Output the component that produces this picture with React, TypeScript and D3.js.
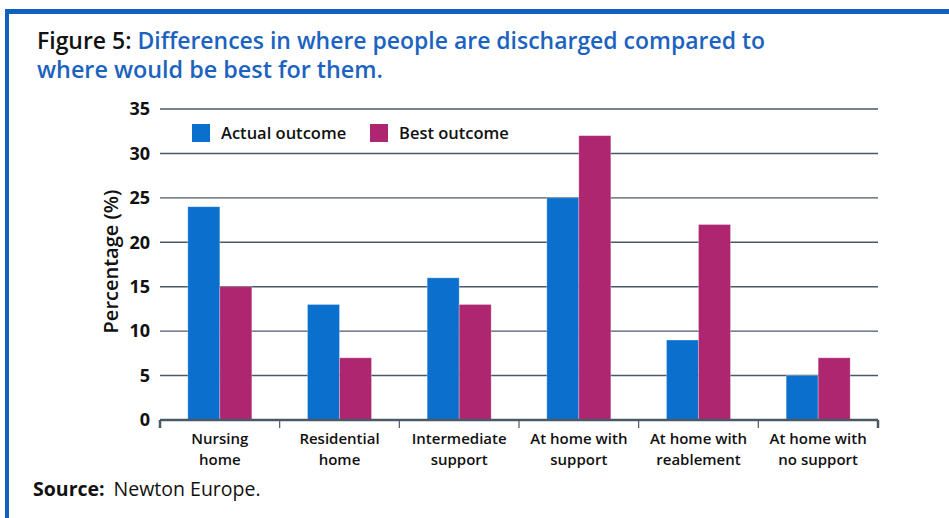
import React from 'react';
import * as d3 from 'd3';

// chart data
const categories = [
  ['Nursing', 'home'],
  ['Residential', 'home'],
  ['Intermediate', 'support'],
  ['At home with', 'support'],
  ['At home with', 'reablement'],
  ['At home with', 'no support'],
];
const actualOutcome = [24, 13, 16, 25, 9, 5];
const bestOutcome = [15, 7, 13, 32, 22, 7];
const yTicks = [0, 5, 10, 15, 20, 25, 30, 35];
const seriesNames = ['Actual outcome', 'Best outcome'];

const W = 949;
const H = 518;
const BLUE = '#0a6fcd';
const PINK = '#ae2670';
const FRAME = '#1060bd';
const GRID = '#4b5967';
const FONT = '"Open Sans", "Noto Sans", sans-serif';

const App: React.FC = () => {
  const margin = { left: 160, right: 71, top: 109, bottom: 98 };
  const plotW = W - margin.left - margin.right;
  const plotH = H - margin.top - margin.bottom;

  const x = d3
    .scaleBand<number>()
    .domain(categories.map((_, i) => i))
    .range([0, plotW]);
  const y = d3.scaleLinear().domain([0, 35]).range([plotH, 0]);
  const barW = 32;

  const series = [actualOutcome, bestOutcome];
  const colors = [BLUE, PINK];

  return (
    <svg
      width={W}
      height={H}
      style={{ position: 'absolute', left: 0, top: 0, background: '#fff' }}
      fontFamily={FONT}
    >
      {/* frame */}
      <rect x={5} y={9} width={W - 5} height={5} fill={FRAME} />
      <rect x={5} y={9} width={4} height={H - 9} fill={FRAME} />

      {/* title */}
      <text x={37} y={49} fontSize={23} fontWeight={600} fill="#111" textLength={728} lengthAdjust="spacingAndGlyphs">
        Figure 5: <tspan fill="#1c63bf">Differences in where people are discharged compared to</tspan>
      </text>
      <text x={37} y={78} fontSize={23} fontWeight={600} fill="#1c63bf" textLength={346} lengthAdjust="spacingAndGlyphs">
        where would be best for them.
      </text>

      <g transform={`translate(${margin.left},${margin.top})`}>
        {/* gridlines */}
        {yTicks.filter(t => t > 0).map(t => (
          <line key={t} x1={0} x2={plotW} y1={y(t)} y2={y(t)} stroke={GRID} strokeWidth={1.4} />
        ))}
        {/* y tick labels */}
        {yTicks.map(t => (
          <text key={t} x={-10} y={y(t)} dy="0.35em" textAnchor="end" fontSize={18} fontWeight={700} fill="#111">
            {t}
          </text>
        ))}

        {/* bars */}
        {series.map((vals, s) =>
          vals.map((v, i) => {
            const cx = (x(i) || 0) + x.bandwidth() / 2;
            return (
              <rect
                key={`${s}-${i}`}
                x={cx - barW + s * barW}
                y={y(v)}
                width={barW}
                height={y(0) - y(v)}
                fill={colors[s]}
                stroke="#fff"
                strokeOpacity={0.35}
                strokeWidth={0.8}
              />
            );
          })
        )}

        {/* x axis */}
        <line x1={0} x2={plotW} y1={plotH} y2={plotH} stroke={GRID} strokeWidth={2.5} />
        {d3.range(categories.length + 1).map(i => {
          const tx = i === categories.length ? plotW : x(i) || 0;
          return (
            <line key={i} x1={tx} x2={tx} y1={plotH} y2={plotH + 8} stroke={GRID} strokeWidth={i === 0 || i === categories.length ? 2.5 : 1.2} />
          );
        })}
        {categories.map((lines, i) => (
          <text key={i} x={(x(i) || 0) + x.bandwidth() / 2} textAnchor="middle" fontSize={15} fontWeight={600} fill="#111">
            {lines.map((l, k) => (
              <tspan key={k} x={(x(i) || 0) + x.bandwidth() / 2} y={plotH + 24 + k * 20.5}>
                {l}
              </tspan>
            ))}
          </text>
        ))}

        {/* y axis title */}
        <text transform={`translate(-42,${plotH / 2 - 3}) rotate(-90)`} textAnchor="middle" fontSize={20} fontWeight={600} fill="#111">
          Percentage (%)
        </text>

        {/* legend */}
        {seriesNames.map((name, s) => (
          <g key={name} transform={`translate(${32 + s * 178},15)`}>
            <rect x={0} y={0} width={18} height={18} fill={colors[s]} />
            <text x={29} y={9} dy="0.35em" fontSize={16.5} fontWeight={600} fill="#111">
              {name}
            </text>
          </g>
        ))}
      </g>

      {/* source */}
      <text x={33} y={496} fontSize={19.5} fill="#111">
        <tspan fontWeight={700}>Source:</tspan>
        <tspan dx={9}>Newton Europe.</tspan>
      </text>
    </svg>
  );
};

export default App;
